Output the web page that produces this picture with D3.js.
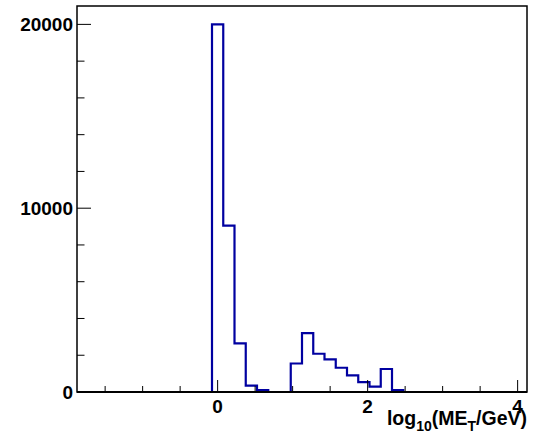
<!DOCTYPE html>
<html>
<head>
<meta charset="utf-8">
<script src="https://cdn.jsdelivr.net/npm/d3@7"></script>
<style>
  html, body { margin: 0; padding: 0; background: #fff; }
  svg { display: block; font-family: "Liberation Sans", Arial, Helvetica, sans-serif; }
</style>
</head>
<body>
<svg id="chart" width="536" height="435"></svg>
<script>
// ---- data ----
const binLow = -1.875;
const binWidth = 0.15;
const counts = [
  0, 0, 0, 0, 0, 0, 0, 0, 0, 0, 0, 0,
  20000, 9050, 2650, 350, 100, 0, 0,
  1550, 3200, 2080, 1770, 1320, 900, 540, 290, 1250, 100,
  0, 0, 0, 0, 0, 0, 0, 0, 0, 0, 0
];
const xMajorTicks = [0, 2, 4];
const xMinorTicks = [-1.5, -1, -0.5, 0.5, 1, 1.5, 2.5, 3, 3.5];
const yMajorTicks = [0, 10000, 20000];
const yMinorTicks = [2000, 4000, 6000, 8000, 12000, 14000, 16000, 18000];
const xDomain = [-1.875, 4.125];
const yDomain = [0, 21000];

// ---- layout ----
const svg = d3.select("#chart");
const L = 77, R = 527, T = 6, B = 392;
const x = d3.scaleLinear().domain(xDomain).range([L, R]);
const y = d3.scaleLinear().domain(yDomain).range([B, T]);

// histogram step path
const pts = [[binLow, 0]];
counts.forEach((c, i) => {
  const a = binLow + i * binWidth, b = a + binWidth;
  pts.push([a, c]); pts.push([b, c]);
});
pts.push([binLow + counts.length * binWidth, 0]);
const line = d3.line().x(d => x(d[0])).y(d => y(d[1]));
svg.append("path")
  .attr("d", line(pts))
  .attr("fill", "none")
  .attr("stroke", "#0000a0")
  .attr("stroke-width", 2.2)
  .attr("stroke-linejoin", "miter");

// frame
svg.append("rect")
  .attr("x", L).attr("y", T).attr("width", R - L).attr("height", B - T)
  .attr("fill", "none").attr("stroke", "#000").attr("stroke-width", 1.5);
svg.append("line").attr("x1", L).attr("x2", R).attr("y1", B).attr("y2", B)
  .attr("stroke", "#000").attr("stroke-width", 2);

// y ticks
svg.selectAll(".ymaj").data(yMajorTicks).enter().append("line")
  .attr("x1", L).attr("x2", L + 14)
  .attr("y1", d => y(d)).attr("y2", d => y(d))
  .attr("stroke", "#000").attr("stroke-width", 1);
svg.selectAll(".ymin").data(yMinorTicks).enter().append("line")
  .attr("x1", L).attr("x2", L + 7.5)
  .attr("y1", d => y(d)).attr("y2", d => y(d))
  .attr("stroke", "#000").attr("stroke-width", 1);
svg.selectAll(".ylab").data(yMajorTicks).enter().append("text")
  .attr("x", 73).attr("y", d => y(d) + 6.5)
  .attr("text-anchor", "end")
  .attr("font-size", 19).attr("font-weight", "bold")
  .text(d => d);

// x ticks
svg.selectAll(".xmaj").data(xMajorTicks).enter().append("line")
  .attr("x1", d => x(d)).attr("x2", d => x(d))
  .attr("y1", B).attr("y2", B - 12)
  .attr("stroke", "#000").attr("stroke-width", 1);
svg.selectAll(".xmin").data(xMinorTicks).enter().append("line")
  .attr("x1", d => x(d)).attr("x2", d => x(d))
  .attr("y1", B).attr("y2", B - 6)
  .attr("stroke", "#000").attr("stroke-width", 1);
svg.selectAll(".xlab").data(xMajorTicks).enter().append("text")
  .attr("x", d => x(d)).attr("y", 413)
  .attr("text-anchor", "middle")
  .attr("font-size", 19).attr("font-weight", "bold")
  .text(d => d);

// axis title
const title = svg.append("text")
  .attr("x", R).attr("y", 425)
  .attr("text-anchor", "end")
  .attr("font-size", 19.5).attr("font-weight", "bold");
title.append("tspan").text("log");
title.append("tspan").attr("font-size", 14).attr("dy", 6).text("10");
title.append("tspan").attr("dy", -6).text("(ME");
title.append("tspan").attr("font-size", 14).attr("dy", 6).text("T");
title.append("tspan").attr("dy", -6).text("/GeV)");
</script>
</body>
</html>
